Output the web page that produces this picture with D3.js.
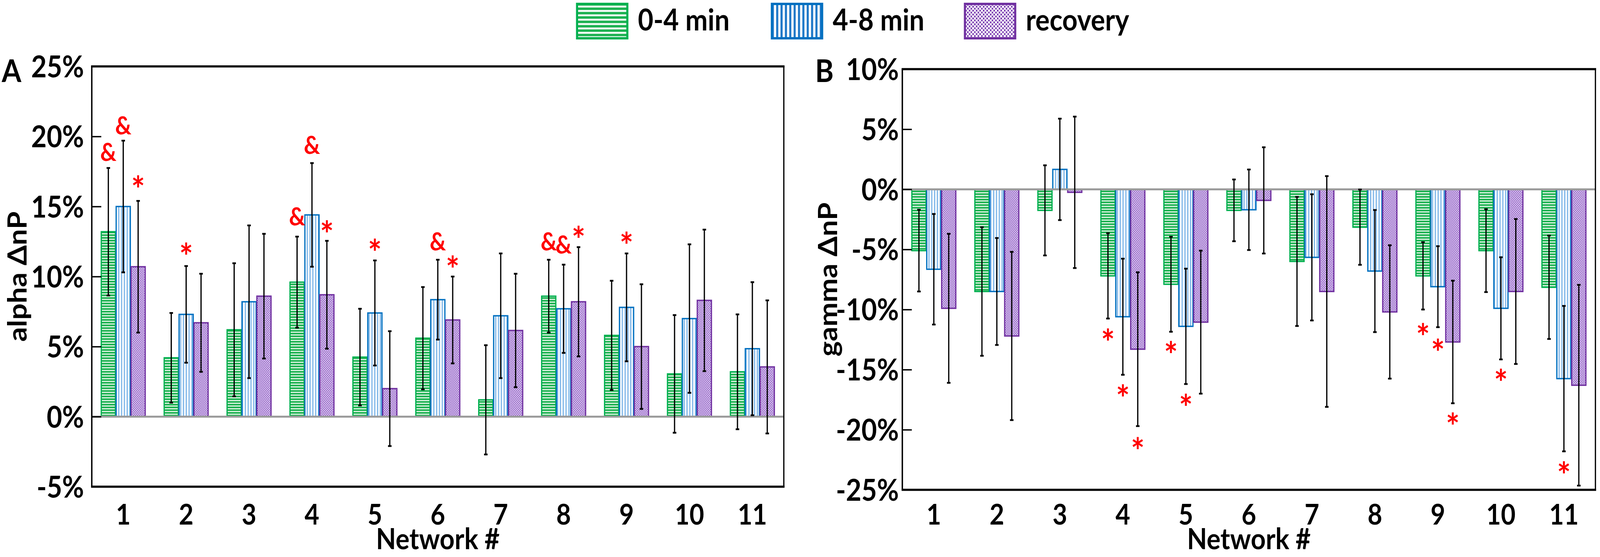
<!DOCTYPE html>
<html><head><meta charset="utf-8">
<script src="https://cdn.jsdelivr.net/npm/d3@7/dist/d3.min.js"></script>
<style>html,body{margin:0;padding:0;background:#fff;overflow:hidden}svg{display:block;width:100vw;height:100vh}</style>
</head><body>
<svg id="chart" viewBox="0 0 4550 1426" preserveAspectRatio="none"></svg>
<script>
// ---------------- data ----------------
const networks = ["1","2","3","4","5","6","7","8","9","10","11"];
const seriesNames = ["0-4 min","4-8 min","recovery"];

const alphaTicks = [25,20,15,10,5,0,-5];
const gammaTicks = [10,5,0,-5,-10,-15,-20,-25];

const alpha0to4   = [13.2, 4.2, 6.2, 9.6, 4.25, 5.6, 1.2, 8.6, 5.8, 3.05, 3.2];
const alpha4to8   = [15.0, 7.3, 8.2, 14.4, 7.4, 8.35, 7.2, 7.7, 7.8, 7.0, 4.85];
const alphaRecov  = [10.7, 6.7, 8.6, 8.7, 2.0, 6.9, 6.15, 8.2, 5.0, 8.3, 3.55];
const alphaErr0to4  = [4.55, 3.2, 4.75, 3.25, 3.45, 3.65, 3.9, 2.6, 3.9, 4.2, 4.1];
const alphaErr4to8  = [4.7, 3.45, 5.45, 3.7, 3.75, 2.85, 4.45, 3.15, 3.85, 5.3, 4.75];
const alphaErrRecov = [4.7, 3.5, 4.45, 3.85, 4.1, 3.1, 4.05, 3.9, 4.45, 5.05, 4.75];

const gamma0to4   = [-5.1, -8.5, -1.75, -7.2, -7.9, -1.75, -6.0, -3.15, -7.2, -5.1, -8.15];
const gamma4to8   = [-6.65, -8.5, 1.66, -10.6, -11.4, -1.7, -5.66, -6.8, -8.1, -9.9, -15.75];
const gammaRecov  = [-9.9, -12.2, -0.25, -13.3, -11.05, -0.92, -8.5, -10.2, -12.7, -8.5, -16.3];
const gammaErr0to4  = [3.4, 5.35, 3.75, 3.55, 3.95, 2.57, 5.37, 3.13, 2.8, 3.45, 4.3];
const gammaErr4to8  = [4.6, 4.45, 4.22, 4.83, 4.8, 3.35, 5.25, 5.08, 3.37, 4.25, 6.05];
const gammaErrRecov = [6.2, 7.0, 6.3, 6.4, 5.95, 4.42, 9.6, 5.55, 5.1, 6.03, 8.35];

// significance marks: [network, series index, symbol, value position]
const alphaMarks = [
  ["1",0,"&",18.9],["1",1,"&",20.8],["1",2,"*",16.8],
  ["2",1,"*",12.0],
  ["4",0,"&",14.3],["4",1,"&",19.4],["4",2,"*",13.6],
  ["5",1,"*",12.3],
  ["6",1,"&",12.5],["6",2,"*",11.1],
  ["8",0,"&",12.5],["8",1,"&",12.3],["8",2,"*",13.2],
  ["9",1,"*",12.8]
];
const gammaMarks = [
  ["4",0,"*",-12.05],["4",1,"*",-16.7],["4",2,"*",-21.1],
  ["5",0,"*",-13.1],["5",1,"*",-17.5],
  ["9",0,"*",-11.6],["9",1,"*",-12.9],["9",2,"*",-19.05],
  ["10",1,"*",-15.4],
  ["11",1,"*",-23.1]
];

// ---------------- styles ----------------
const FONT = "Lato, 'Open Sans', 'Liberation Sans', sans-serif";
const strokeColors = ["#00b050","#0070c0","#7030a0"];

const svg = d3.select("#chart");
const defs = svg.append("defs");

function makePatterns(prefix, big){
  const k = big ? 1.6 : 1;
  // green horizontal stripes
  let p = defs.append("pattern").attr("id",prefix+"0").attr("patternUnits","userSpaceOnUse")
    .attr("width",10).attr("height",7*k);
  p.append("rect").attr("width",10).attr("height",7*k).attr("fill", "#1cb150");
  p.append("rect").attr("y",2*k).attr("width",10).attr("height",3*k).attr("fill", big ? "#ffffff" : "#d9f2e0");
  // blue vertical stripes
  p = defs.append("pattern").attr("id",prefix+"1").attr("patternUnits","userSpaceOnUse")
    .attr("width",(big?12.4:8)).attr("height",10);
  p.append("rect").attr("width",(big?12.4:8)).attr("height",10).attr("fill","#ffffff");
  p.append("rect").attr("width",(big?6:3.5)).attr("height",10).attr("fill", big ? "#1f78c8" : "#7fb6e8");
  // purple speckle
  const s = big ? 10 : 6;
  p = defs.append("pattern").attr("id",prefix+"2").attr("patternUnits","userSpaceOnUse")
    .attr("width",s).attr("height",s);
  p.append("rect").attr("width",s).attr("height",s).attr("fill", big ? "#ffffff" : "#ddccf0");
  p.append("rect").attr("x",0).attr("y",0).attr("width",s*0.45).attr("height",s*0.45).attr("fill", big ? "#7a3cb0" : "#8752bf");
  p.append("rect").attr("x",s/2).attr("y",s/2).attr("width",s*0.45).attr("height",s*0.45).attr("fill", big ? "#7a3cb0" : "#8752bf");
}
makePatterns("pb", false);
makePatterns("pl", true);

// ---------------- legend ----------------
const legendX = [1638, 2192, 2741];
seriesNames.forEach((name,i)=>{
  svg.append("rect").attr("x",legendX[i]+3).attr("y",10).attr("width",143).attr("height",88)
    .attr("fill",`url(#pl${i})`).attr("stroke",strokeColors[i]).attr("stroke-width",6);
  svg.append("text").attr("x",legendX[i]+176).attr("y",78)
    .attr("font-family",FONT).attr("font-weight","bold").attr("font-size",76)
    .attr("fill","#000").text(name);
});

// ---------------- panels ----------------
function drawPanel(cfg){
  const g = svg.append("g");
  const y = d3.scaleLinear().domain(cfg.domain).range([cfg.yBot, cfg.yTop]);
  const x = d3.scaleBand().domain(networks).range([cfg.x0, cfg.x1]).padding(0);
  const xs = d3.scaleBand().domain([0,1,2]).range([-62.5, 62.5]).paddingInner(0.05);

  const data = [];
  networks.forEach((n,j)=>{
    cfg.means.forEach((arr,i)=>{
      data.push({n, i, v: arr[j], e: cfg.errs[i][j]});
    });
  });

  // bars
  g.selectAll("rect.bar").data(data).join("rect").attr("class","bar")
    .attr("x", d => x(d.n) + x.bandwidth()/2 + xs(d.i))
    .attr("width", xs.bandwidth())
    .attr("y", d => y(Math.max(0,d.v)))
    .attr("height", d => Math.abs(y(d.v) - y(0)))
    .attr("fill", d => `url(#pb${d.i})`)
    .attr("stroke", d => strokeColors[d.i]).attr("stroke-width",3.5);

  // zero line
  g.append("line").attr("x1",cfg.x0).attr("x2",cfg.x1).attr("y1",y(0)).attr("y2",y(0))
    .attr("stroke","#9a9a9a").attr("stroke-width",5);

  // error bars
  const cx = d => x(d.n) + x.bandwidth()/2 + xs(d.i) + xs.bandwidth()/2;
  g.selectAll("line.err").data(data).join("line").attr("class","err")
    .attr("x1",cx).attr("x2",cx)
    .attr("y1",d=>y(d.v+d.e)).attr("y2",d=>y(d.v-d.e))
    .attr("stroke","#000").attr("stroke-width",3.5);
  ["+","-"].forEach(sgn=>{
    g.selectAll("line.cap"+(sgn==="+"?"u":"d")).data(data).join("line").attr("class","cap"+(sgn==="+"?"u":"d"))
      .attr("x1",d=>cx(d)-5).attr("x2",d=>cx(d)+5)
      .attr("y1",d=>y(sgn==="+"?d.v+d.e:d.v-d.e)).attr("y2",d=>y(sgn==="+"?d.v+d.e:d.v-d.e))
      .attr("stroke","#000").attr("stroke-width",4.5);
  });

  // frame
  g.append("line").attr("x1",cfg.x0).attr("x2",cfg.x0).attr("y1",cfg.yTop).attr("y2",cfg.yBot).attr("stroke","#000").attr("stroke-width",4);
  g.append("line").attr("x1",cfg.x1).attr("x2",cfg.x1).attr("y1",cfg.yTop).attr("y2",cfg.yBot).attr("stroke","#000").attr("stroke-width",3.5);
  g.append("line").attr("x1",cfg.x0-2).attr("x2",cfg.x1+2).attr("y1",cfg.yTop).attr("y2",cfg.yTop).attr("stroke","#000").attr("stroke-width",5.5);
  g.append("line").attr("x1",cfg.x0-2).attr("x2",cfg.x1+2).attr("y1",cfg.yBot).attr("y2",cfg.yBot).attr("stroke","#000").attr("stroke-width",5.5);

  // y ticks (inward) and labels
  const yAxis = d3.axisRight(y).tickValues(cfg.ticks).tickSize(27).tickFormat(d=>d+"%");
  const ya = g.append("g").attr("transform",`translate(${cfg.x0},0)`).call(yAxis);
  ya.select(".domain").remove();
  ya.selectAll(".tick line").attr("stroke","#000").attr("stroke-width",3.5)
    .attr("display", d => (d===cfg.domain[0]||d===cfg.domain[1]) ? "none" : null);
  ya.selectAll(".tick text").attr("x",-cfg.labelGap).attr("text-anchor","end").attr("dy","0.36em")
    .attr("font-family",FONT).attr("font-weight","bold").attr("font-size",76).attr("fill","#000");

  // x labels
  const xAxis = d3.axisBottom(x).tickSize(0).tickPadding(0);
  const xa = g.append("g").attr("transform",`translate(0,${cfg.yBot})`).call(xAxis);
  xa.select(".domain").remove();
  xa.selectAll(".tick text").attr("y",cfg.xLabelY - cfg.yBot).attr("dy","0.36em")
    .attr("font-family",FONT).attr("font-weight","bold").attr("font-size",72).attr("fill","#000");

  // axis titles
  g.append("text").attr("x",(cfg.x0+cfg.x1)/2).attr("y",1406).attr("text-anchor","middle")
    .attr("font-family",FONT).attr("font-weight","bold").attr("font-size",74).text("Network #");
  g.append("text").attr("transform",`translate(${cfg.titleX},${(cfg.yTop+cfg.yBot)/2}) rotate(-90)`)
    .attr("text-anchor","middle").attr("font-family",FONT).attr("font-weight","bold").attr("font-size",74)
    .text(cfg.title);
  // panel letter
  g.append("text").attr("x",cfg.letterX).attr("y",210).attr("font-family",FONT).attr("font-weight","bold")
    .attr("font-size",80).text(cfg.letter);

  // significance marks
  g.selectAll("text.mark").data(cfg.marks).join("text").attr("class","mark")
    .attr("x", d => x(d[0]) + x.bandwidth()/2 + xs(d[1]) + xs.bandwidth()/2)
    .attr("y", d => y(d[3]))
    .attr("dy", d => d[2]==="*" ? "0.6em" : "0.36em")
    .attr("text-anchor","middle")
    .attr("font-family",FONT).attr("font-weight","bold")
    .attr("font-size", d => d[2]==="*" ? 92 : 64)
    .attr("fill","#ff0000").text(d=>d[2]);
}

drawPanel({
  x0:261, x1:2229, yTop:170, yBot:1246, domain:[-5,25], ticks:alphaTicks, labelGap:22,
  means:[alpha0to4, alpha4to8, alphaRecov], errs:[alphaErr0to4, alphaErr4to8, alphaErrRecov],
  marks:alphaMarks, title:"alpha ΔnP", titleX:76, letter:"A", letterX:5, xLabelY:1317
});
drawPanel({
  x0:2566, x1:4537, yTop:177, yBot:1254, domain:[-25,10], ticks:gammaTicks, labelGap:10,
  means:[gamma0to4, gamma4to8, gammaRecov], errs:[gammaErr0to4, gammaErr4to8, gammaErrRecov],
  marks:gammaMarks, title:"gamma ΔnP", titleX:2380, letter:"B", letterX:2318, xLabelY:1317
});
</script>
</body></html>
